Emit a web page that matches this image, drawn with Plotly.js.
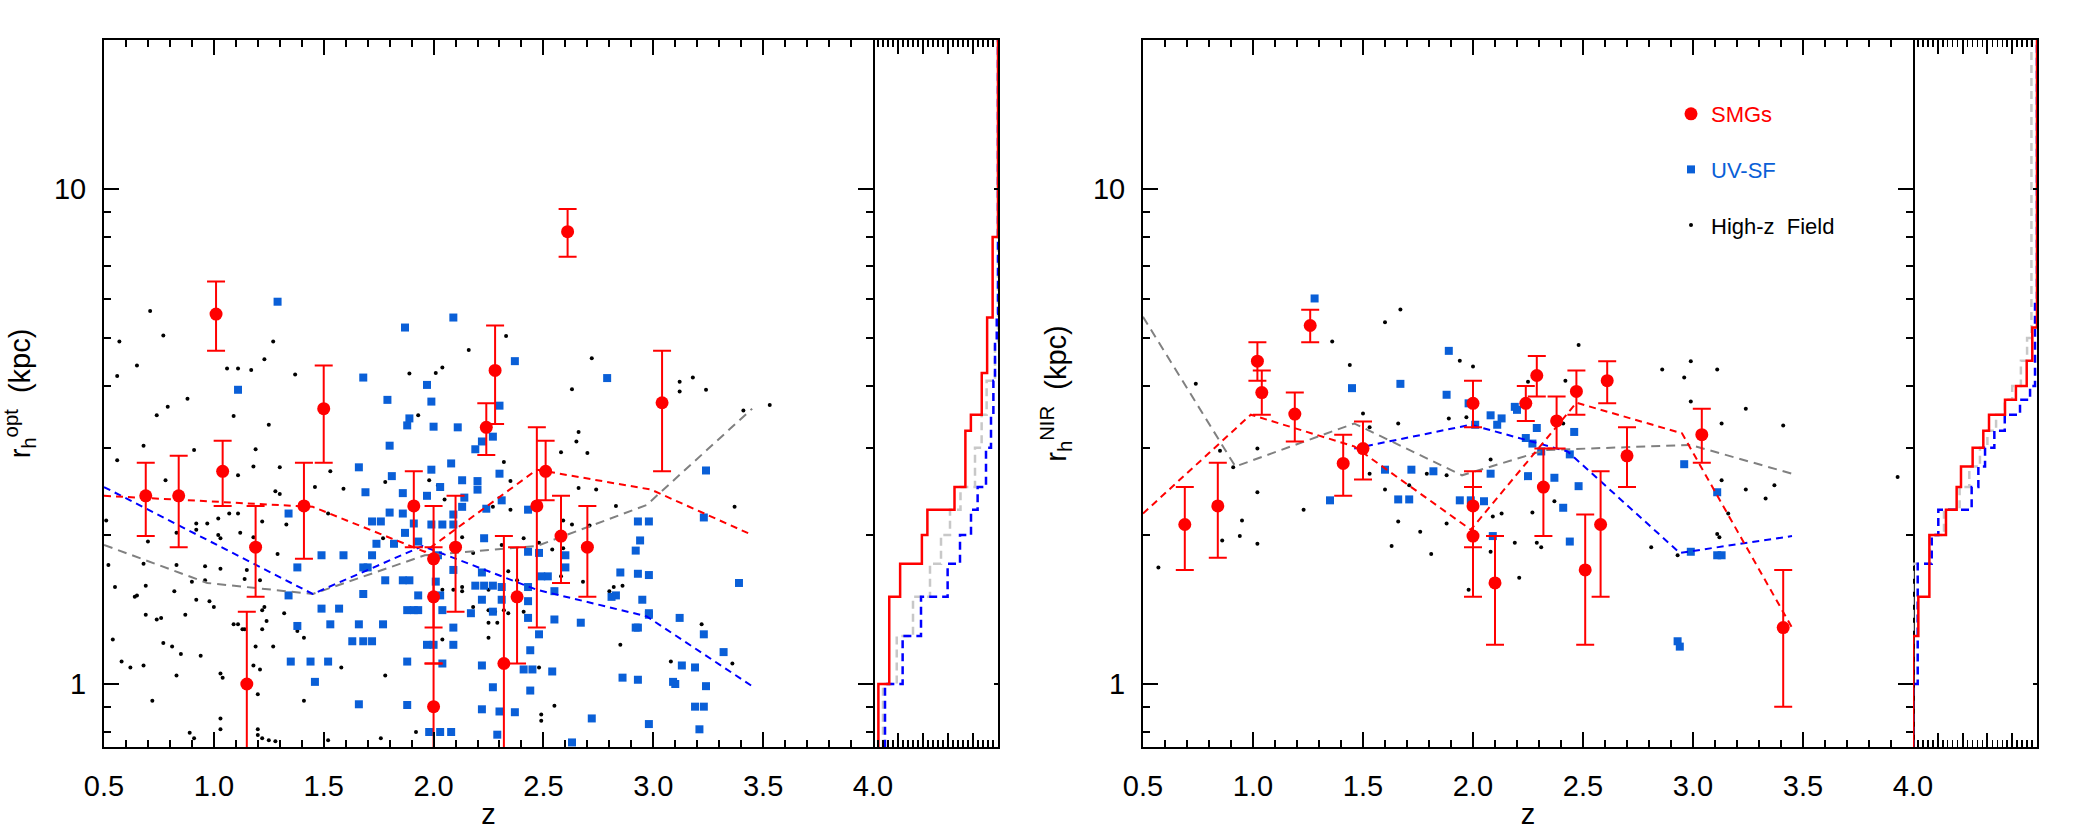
<!DOCTYPE html>
<html>
<head>
<meta charset="utf-8">
<script src="https://cdn.plot.ly/plotly-3.0.1.min.js"></script>
<style>html,body{margin:0;padding:0;background:#fff;}#chart{width:2079px;height:830px;}</style>
</head>
<body>
<div id="chart"></div>
<script>
// ---------------- DATA ----------------
// Left panel: optical half-light radius vs redshift
const smgOptZ  = [0.69,0.84,1.01,1.04,1.15,1.19,1.41,1.50,1.91,2.00,2.00,2.00,2.10,2.24,2.28,2.32,2.38,2.47,2.51,2.58,2.61,2.70,3.04];
const smgOptR  = [2.40,2.40,5.59,2.69,1.00,1.89,2.29,3.60,2.29,1.79,1.50,0.90,1.89,3.30,4.30,1.10,1.50,2.29,2.69,1.99,8.20,1.89,3.70];
const smgOptHi = [2.80,2.89,6.50,3.10,1.40,2.29,2.80,4.40,2.69,2.29,1.89,1.10,2.40,3.69,5.30,1.99,1.89,3.30,3.10,2.40,9.11,2.29,4.71];
const smgOptLo = [1.99,1.89,4.71,2.29,0.60,1.50,1.79,2.80,1.89,1.30,1.10,0.60,1.40,2.90,3.35,0.60,1.10,1.30,2.35,1.60,7.30,1.50,2.69];

const uvOptZ = [1.29,2.09,1.87,2.37,1.11,1.68,1.97,2.79,1.79,1.99,2.30,1.89,
1.88,2.00,2.11,2.22,2.27,2.19,1.80,2.08,1.66,2.30,3.24,1.99,1.81,2.13,2.20,2.20,1.69,1.86,1.97,2.03,2.14,2.13,2.31,2.24,2.43,1.34,1.80,1.86,2.09,1.72,1.76,1.91,1.99,2.04,2.09,2.93,2.98,3.23,1.87,2.23,2.94,1.74,1.82,1.93,1.72,1.59,1.49,1.38,1.68,1.70,2.02,2.09,2.22,2.92,2.60,2.60,2.43,2.48,2.52,2.49,2.85,2.93,2.98,3.39,1.78,1.86,1.89,2.01,2.19,2.23,2.27,2.31,2.43,2.55,1.68,1.34,1.93,2.03,2.83,2.81,2.95,2.22,2.31,2.43,1.49,1.57,1.88,1.91,1.93,2.04,2.17,2.27,2.98,2.98,3.12,2.43,2.55,2.67,1.38,1.53,1.66,1.77,2.09,2.92,2.93,3.23,2.48,1.63,1.68,1.72,1.97,2.00,2.09,2.44,3.32,1.35,1.44,1.52,1.88,2.04,2.22,2.41,2.45,2.54,3.13,3.19,1.46,2.86,2.93,3.09,3.10,3.24,2.27,2.44,1.66,1.88,2.22,2.30,2.37,3.19,3.23,2.72,2.98,3.21,1.98,2.03,2.08,2.63,2.29];
const uvOptR = [5.92,5.50,5.25,4.49,3.93,4.16,4.02,4.15,3.75,3.72,3.65,3.44,
3.33,3.31,3.30,3.09,3.16,2.98,3.03,2.79,2.74,2.66,2.70,2.71,2.63,2.58,2.57,2.47,2.44,2.43,2.40,2.50,2.38,2.28,2.35,2.26,2.25,2.21,2.22,2.21,2.20,2.13,2.13,2.11,2.10,2.10,2.10,2.13,2.13,2.17,2.02,1.97,1.95,1.92,1.92,1.94,1.82,1.82,1.82,1.72,1.72,1.72,1.82,1.70,1.68,1.86,1.82,1.72,1.85,1.84,1.65,1.65,1.68,1.67,1.66,1.60,1.62,1.62,1.62,1.61,1.58,1.58,1.58,1.57,1.57,1.54,1.52,1.51,1.51,1.51,1.51,1.50,1.48,1.48,1.48,1.47,1.42,1.42,1.41,1.41,1.41,1.41,1.39,1.40,1.39,1.38,1.36,1.36,1.35,1.33,1.31,1.32,1.32,1.32,1.30,1.30,1.30,1.26,1.26,1.22,1.22,1.22,1.20,1.20,1.20,1.17,1.16,1.11,1.11,1.11,1.11,1.10,1.09,1.07,1.07,1.06,1.09,1.08,1.01,1.03,1.02,1.01,1.00,0.99,0.985,0.97,0.91,0.907,0.889,0.88,0.877,0.90,0.90,0.852,0.83,0.81,0.80,0.80,0.80,0.762,0.79];

const fieldOptZ = [0.71,0.77,0.57,0.65,0.56,1.27,1.06,1.11,1.17,1.23,1.37,0.88,0.79,0.74,1.09,1.89,2.01,2.04,2.16,2.33,1.93,2.63,2.72,3.12,3.18,3.12,3.24,3.41,3.53,
1.25,2.66,0.56,0.68,0.91,1.19,
2.58,2.70,2.65,2.32,1.53,1.30,
1.18,1.03,1.11,0.78,1.78,1.98,2.02,2.35,2.66,2.74,1.46,1.59,1.28,1.30,
0.51,0.97,0.92,1.02,1.07,1.11,1.22,1.52,1.33,2.05,2.27,2.35,2.83,3.37,2.59,2.63,2.71,
0.70,0.83,0.92,1.02,1.03,1.12,1.18,1.29,1.77,2.13,2.31,2.41,2.48,2.54,2.59,2.18,
0.52,0.68,0.83,0.96,1.03,1.15,0.55,0.69,0.82,0.90,0.96,1.14,1.21,2.04,2.09,2.13,2.13,2.22,2.25,2.34,2.38,2.58,2.68,2.82,2.86,2.80,
0.64,0.65,0.92,0.98,1.00,0.74,0.69,0.76,0.87,1.09,1.11,1.13,1.14,1.22,1.23,1.22,1.32,1.38,1.24,2.18,2.25,2.28,2.32,2.34,2.25,2.29,2.41,3.22,
0.54,0.77,0.81,0.85,0.94,1.19,1.27,1.41,2.04,2.25,2.85,0.58,0.62,0.68,0.83,1.03,1.04,1.18,1.21,1.58,1.78,3.08,3.13,3.36,2.48,
0.72,1.20,1.41,1.03,1.03,0.89,0.91,1.20,1.20,1.22,1.25,1.28,1.52,1.76,1.92,2.49,2.49,2.55];
const fieldOptR = [5.67,5.06,4.92,4.40,4.19,4.92,4.34,4.34,4.31,4.53,4.22,3.77,3.63,3.49,3.48,4.24,4.25,4.36,4.73,5.05,3.49,3.94,4.55,4.08,4.16,3.90,3.93,3.57,3.66,
3.34,3.23,2.83,3.03,2.97,2.98,
2.94,2.93,3.09,2.81,2.69,2.74,
2.75,2.66,2.64,2.58,2.56,2.58,2.52,2.57,2.49,2.47,2.50,2.48,2.45,2.42,
2.14,2.11,2.11,2.16,2.21,2.21,2.13,2.21,2.10,2.36,2.28,2.25,2.29,2.28,2.14,2.10,2.09,
1.94,2.02,2.05,2.00,1.97,2.02,1.98,1.83,1.97,1.98,1.91,1.97,1.93,1.87,1.88,1.84,
1.74,1.75,1.74,1.73,1.71,1.70,1.57,1.58,1.54,1.61,1.62,1.63,1.62,1.55,1.55,1.54,1.57,1.68,1.55,1.69,1.62,1.65,1.61,1.57,1.58,1.54,
1.50,1.51,1.48,1.47,1.43,1.35,1.38,1.36,1.38,1.32,1.32,1.29,1.29,1.29,1.43,1.41,1.39,1.28,1.34,1.43,1.41,1.40,1.41,1.39,1.33,1.33,1.40,1.32,
1.23,1.21,1.19,1.15,1.14,1.19,1.19,1.24,1.23,1.24,1.20,1.11,1.08,1.09,1.04,1.05,1.03,1.09,1.07,1.08,1.04,1.11,1.09,1.10,1.08,
0.925,0.954,0.925,0.852,0.81,0.797,0.777,0.81,0.789,0.777,0.77,0.766,0.77,0.777,0.80,0.868,0.843,0.904];

// running medians (left)
const medSmgOptZ = [0.50,1.45,1.96,2.47,2.99,3.45];
const medSmgOptR = [2.40,2.28,1.85,2.71,2.47,2.00];
const medUvOptZ  = [0.50,1.45,1.95,2.47,2.97,3.45];
const medUvOptR  = [2.50,1.52,1.90,1.55,1.37,0.99];
const medFieldOptZ = [0.50,0.97,1.45,1.96,2.47,2.97,3.45];
const medFieldOptR = [1.91,1.60,1.52,1.82,1.90,2.30,3.60];

// cumulative distributions (left side panel): radius bin edges and cumulative fraction per bin
const cumSmgOptEdges = [0.70,1.00,1.50,1.75,2.00,2.25,2.50,3.25,3.50,4.25,5.50,8.00,25];
const cumSmgOptFrac  = [0.043,0.130,0.217,0.391,0.435,0.652,0.739,0.783,0.870,0.913,0.957,1.000];
const cumUvOptEdges  = [0.70,1.00,1.25,1.50,1.75,2.00,2.25,2.50,3.00,3.50,4.10,4.90,5.60,25];
const cumUvOptFrac   = [0.096,0.237,0.384,0.597,0.696,0.784,0.837,0.904,0.944,0.963,0.976,0.990,1.000];
const cumFieldOptEdges = [0.70,1.00,1.25,1.50,1.75,2.00,2.25,2.50,3.00,3.50,4.10,4.90,25];
const cumFieldOptFrac  = [0.080,0.190,0.320,0.456,0.544,0.616,0.700,0.816,0.869,0.909,0.976,1.000];

// Right panel: NIR half-light radius vs redshift
const smgNirZ  = [0.69,0.84,1.02,1.04,1.19,1.26,1.41,1.50,2.00,2.00,2.00,2.10,2.24,2.29,2.32,2.38,2.47,2.51,2.58,2.61,2.70,3.04,3.41];
const smgNirR  = [2.10,2.29,4.49,3.88,3.51,5.30,2.79,2.99,3.69,2.29,1.99,1.60,3.69,4.20,2.50,3.40,3.90,1.70,2.10,4.10,2.89,3.19,1.30];
const smgNirHi = [2.50,2.80,4.90,4.30,3.88,5.70,3.19,3.39,4.10,2.50,2.69,1.99,4.00,4.60,2.99,3.81,4.30,2.20,2.69,4.49,3.30,3.60,1.70];
const smgNirLo = [1.70,1.80,4.10,3.50,3.09,4.90,2.40,2.59,3.30,1.89,1.50,1.20,3.40,3.81,1.99,2.99,3.50,1.20,1.50,3.69,2.50,2.80,0.90];

const uvNirZ = [1.28,1.89,1.45,1.67,1.88,1.98,2.08,2.19,2.13,2.11,2.01,2.20,2.29,2.46,2.24,2.27,2.31,2.44,1.60,1.72,1.82,2.08,2.25,2.37,2.48,2.96,1.35,1.66,1.71,1.94,1.99,2.05,2.41,3.11,2.09,2.44,2.99,3.11,3.13,2.93,2.94];
const uvNirR = [6.01,4.71,3.96,4.04,3.84,3.69,3.49,3.63,3.44,3.34,3.34,3.58,3.29,3.23,3.14,3.06,2.95,2.91,2.71,2.71,2.69,2.66,2.63,2.61,2.51,2.78,2.35,2.36,2.36,2.35,2.35,2.34,2.27,2.44,1.99,1.94,1.85,1.82,1.82,1.22,1.19];

const fieldNirZ = [1.67,1.60,1.36,2.48,1.44,1.94,2.00,2.86,2.99,3.11,2.96,2.42,2.25,0.74,2.99,3.24,1.50,1.21,1.89,1.97,1.66,1.53,2.41,3.13,3.41,0.85,1.02,0.91,1.53,1.88,1.79,2.08,3.13,3.37,3.24,3.33,3.93,1.02,1.60,1.71,1.23,0.95,1.66,1.88,1.76,2.09,2.13,2.27,2.37,3.16,0.94,0.86,1.02,1.63,1.81,2.08,2.19,2.29,2.31,2.81,2.93,3.11,3.12,0.57,1.98,2.21];
const fieldNirR = [5.71,5.38,4.92,4.84,4.41,4.50,4.38,4.32,4.49,4.32,4.16,4.10,4.08,4.04,3.72,3.60,3.52,3.51,3.44,3.46,3.36,3.30,3.36,3.36,3.33,2.96,2.99,2.74,2.66,2.64,2.66,2.84,2.58,2.52,2.47,2.37,2.62,2.44,2.47,2.52,2.25,2.14,2.13,2.11,2.03,2.18,2.21,2.22,2.34,2.21,1.99,1.95,1.92,1.90,1.83,1.85,1.93,1.93,1.89,1.89,1.82,2.01,1.98,1.72,1.55,1.64];

const medSmgNirZ = [0.50,0.99,1.46,1.99,2.47,2.95,3.45];
const medSmgNirR = [2.21,3.50,3.02,2.05,3.70,3.21,1.30];
const medUvNirZ  = [1.46,1.99,2.43,2.94,3.45];
const medUvNirR  = [2.99,3.34,2.95,1.84,1.99];
const medFieldNirZ = [0.50,0.92,1.46,1.95,2.33,2.99,3.45];
const medFieldNirR = [5.52,2.75,3.36,2.64,2.97,3.04,2.66];

const cumSmgNirEdges = [0.70,1.25,1.50,2.00,2.25,2.50,2.75,3.00,3.25,3.50,3.75,4.00,4.50,5.25,25];
const cumSmgNirFrac  = [0.000,0.043,0.132,0.266,0.352,0.387,0.481,0.567,0.613,0.742,0.830,0.917,0.962,1.000];
const cumUvNirEdges  = [0.70,1.00,1.75,2.00,2.25,2.50,2.75,3.00,3.25,3.50,3.75,4.00,6.00,25];
const cumUvNirFrac   = [0.000,0.038,0.151,0.204,0.473,0.527,0.581,0.656,0.740,0.863,0.944,0.984,1.000];
const cumFieldNirEdges = [0.70,1.75,2.00,2.25,2.50,2.75,3.00,3.25,3.50,3.75,4.00,4.50,5.00,25];
const cumFieldNirFrac  = [0.000,0.137,0.250,0.376,0.454,0.540,0.600,0.670,0.740,0.800,0.870,0.920,0.955];

const zTickVals = [0.5,1.0,1.5,2.0,2.5,3.0,3.5,4.0];
const rTickVals = [1,10];
const rTickText = ['1','10'];
const rMinorVals = [0.8,0.9,2,3,4,5,6,7,8,9,20];

// ---------------- STYLE ----------------
const W = 2079, H = 830;
const FONT = '"Liberation Sans", Arial, sans-serif';
const RED = '#ff0000', BLUE = 'rgb(10,95,215)', GREY = 'rgb(128,128,128)', LGREY = 'rgb(200,200,200)';
const yDom = [(H-747)/H, (H-40)/H];
const yRange = [Math.log10(0.746), Math.log10(20)];

function stepXY(edges, frac){
  return {x: frac.concat([frac[frac.length-1]]), y: edges};
}

function panelTraces(xa, ya, xs, ys, d, legend){
  const t = [];
  t.push({type:'scatter', mode:'markers', x:d.fz, y:d.fr, xaxis:xa, yaxis:ya,
    marker:{symbol:'circle', size:4, color:'black'},
    name:'High-z\u00a0\u00a0Field', showlegend:legend, legendgroup:'g3', legendrank:3, hoverinfo:'skip'});
  t.push({type:'scatter', mode:'markers', x:d.uz, y:d.ur, xaxis:xa, yaxis:ya,
    marker:{symbol:'square', size:8, color:BLUE},
    name:'<span style="color:'+BLUE+'">UV-SF</span>', showlegend:legend, legendgroup:'g2', legendrank:2, hoverinfo:'skip'});
  t.push({type:'scatter', mode:'lines', x:d.mfz, y:d.mfr, xaxis:xa, yaxis:ya,
    line:{color:GREY, width:2, dash:'9px,6px'}, showlegend:false, hoverinfo:'skip'});
  t.push({type:'scatter', mode:'lines', x:d.muz, y:d.mur, xaxis:xa, yaxis:ya,
    line:{color:'rgb(0,0,255)', width:2, dash:'7px,5px'}, showlegend:false, hoverinfo:'skip'});
  t.push({type:'scatter', mode:'lines', x:d.msz, y:d.msr, xaxis:xa, yaxis:ya,
    line:{color:RED, width:2, dash:'7px,5px'}, showlegend:false, hoverinfo:'skip'});
  t.push({type:'scatter', mode:'markers', x:d.sz, y:d.sr, xaxis:xa, yaxis:ya,
    marker:{symbol:'circle', size:13, color:RED},
    error_y:{type:'data', symmetric:false,
      array:d.sr.map((r,i)=>d.shi[i]-r), arrayminus:d.sr.map((r,i)=>r-d.slo[i]),
      color:RED, thickness:2, width:9},
    name:'<span style="color:'+RED+'">SMGs</span>', showlegend:legend, legendgroup:'g1', legendrank:1, hoverinfo:'skip'});
  // cumulative distributions in side panel
  const cf = stepXY(d.cfE, d.cfF), cu = stepXY(d.cuE, d.cuF), cs = stepXY(d.csE, d.csF);
  t.push({type:'scatter', mode:'lines', x:cf.x, y:cf.y, xaxis:xs, yaxis:ys,
    line:{color:LGREY, width:2.5, dash:'8px,5px', shape:'vh'}, showlegend:false, hoverinfo:'skip'});
  t.push({type:'scatter', mode:'lines', x:cu.x, y:cu.y, xaxis:xs, yaxis:ys,
    line:{color:'rgb(0,0,255)', width:2.5, dash:'8px,5px', shape:'vh'}, showlegend:false, hoverinfo:'skip'});
  t.push({type:'scatter', mode:'lines', x:cs.x, y:cs.y, xaxis:xs, yaxis:ys,
    line:{color:RED, width:2.5, shape:'vh'}, showlegend:false, hoverinfo:'skip'});
  return t;
}

const data = [].concat(
  panelTraces('x','y','x2','y2', {
    fz:fieldOptZ, fr:fieldOptR, uz:uvOptZ, ur:uvOptR,
    sz:smgOptZ, sr:smgOptR, shi:smgOptHi, slo:smgOptLo,
    mfz:medFieldOptZ, mfr:medFieldOptR, muz:medUvOptZ, mur:medUvOptR, msz:medSmgOptZ, msr:medSmgOptR,
    cfE:cumFieldOptEdges, cfF:cumFieldOptFrac, cuE:cumUvOptEdges, cuF:cumUvOptFrac, csE:cumSmgOptEdges, csF:cumSmgOptFrac
  }, true),
  panelTraces('x3','y3','x4','y4', {
    fz:fieldNirZ, fr:fieldNirR, uz:uvNirZ, ur:uvNirR,
    sz:smgNirZ, sr:smgNirR, shi:smgNirHi, slo:smgNirLo,
    mfz:medFieldNirZ, mfr:medFieldNirR, muz:medUvNirZ, mur:medUvNirR, msz:medSmgNirZ, msr:medSmgNirR,
    cfE:cumFieldNirEdges, cfF:cumFieldNirFrac, cuE:cumUvNirEdges, cuF:cumUvNirFrac, csE:cumSmgNirEdges, csF:cumSmgNirFrac
  }, false)
);

const tickFont = {family:FONT, size:29, color:'black'};

function mainX(domPx, anchor){
  return {domain:[domPx[0]/W, domPx[1]/W], anchor:anchor, range:[0.5,4.0],
    tickmode:'array', tickvals:zTickVals, ticktext:zTickVals.map(v=>v.toFixed(1)),
    ticks:'inside', ticklen:15, tickwidth:2, tickcolor:'black',
    minor:{dtick:0.1, tick0:0.5, ticks:'inside', ticklen:7, tickwidth:2, tickcolor:'black'},
    showline:true, linewidth:2, linecolor:'black', mirror:'allticks',
    showgrid:false, zeroline:false, tickfont:tickFont, ticklabelstandoff:12,
    title:{text:'z', font:{family:FONT, size:29, color:'black'}, standoff:14}};
}
function mainY(domPx, anchor, title){
  return {domain:yDom, anchor:anchor, type:'log', range:yRange,
    tickmode:'array', tickvals:rTickVals, ticktext:rTickText,
    ticks:'inside', ticklen:15, tickwidth:2, tickcolor:'black',
    minor:{tickmode:'array', tickvals:rMinorVals, ticks:'inside', ticklen:7, tickwidth:2, tickcolor:'black'},
    showline:true, linewidth:2, linecolor:'black', mirror:'allticks',
    showgrid:false, zeroline:false, tickfont:tickFont, ticklabelstandoff:10,
    title:{text:title, font:{family:FONT, size:29, color:'black'}, standoff:18}};
}
function sideX(domPx, anchor){
  return {domain:[domPx[0]/W, domPx[1]/W], anchor:anchor, range:[0,1],
    tickmode:'linear', tick0:0, dtick:0.2, showticklabels:false,
    ticks:'inside', ticklen:14, tickwidth:2, tickcolor:'black',
    minor:{dtick:0.04, tick0:0, ticks:'inside', ticklen:7, tickwidth:1.5, tickcolor:'black'},
    showline:true, linewidth:2, linecolor:'black', mirror:'allticks',
    showgrid:false, zeroline:false};
}
function sideY(anchor){
  return {domain:yDom, anchor:anchor, type:'log', range:yRange, side:'right',
    tickmode:'array', tickvals:rTickVals, showticklabels:false,
    ticks:'inside', ticklen:4, tickwidth:2, tickcolor:'black',
    showline:true, linewidth:2, linecolor:'black', mirror:false,
    showgrid:false, zeroline:false};
}

const layout = {
  width:W, height:H, margin:{l:0, r:0, t:0, b:0},
  paper_bgcolor:'white', plot_bgcolor:'white',
  font:{family:FONT, color:'black'},
  xaxis: mainX([104,873],'y'),
  yaxis: mainY([40,747],'x','r<sub>h</sub><sup>opt</sup>\u00a0 (kpc)'),
  xaxis2: sideX([873,998],'y2'),
  yaxis2: sideY('x2'),
  xaxis3: mainX([1143,1913],'y3'),
  yaxis3: mainY([40,747],'x3','r<sub>h</sub><sup>NIR</sup>\u00a0 (kpc)'),
  xaxis4: sideX([1913,2037],'y4'),
  yaxis4: sideY('x4'),
  showlegend:true,
  legend:{x:1671/W, y:(H-93)/H, xanchor:'left', yanchor:'top',
    bgcolor:'rgba(0,0,0,0)', borderwidth:0,
    font:{family:FONT, size:22, color:'black'},
    traceorder:'grouped', tracegroupgap:24, itemwidth:30, itemsizing:'trace'}
};

Plotly.newPlot('chart', data, layout, {staticPlot:true, displayModeBar:false});
</script>
</body>
</html>
